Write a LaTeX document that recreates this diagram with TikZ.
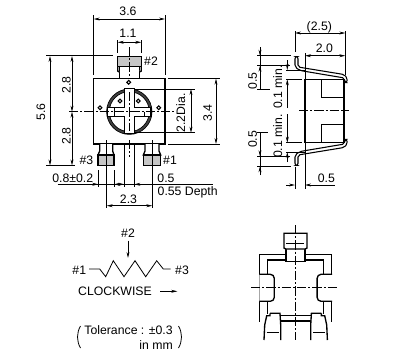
\documentclass[tikz,border=0pt]{standalone}
\usepackage{fontspec}
\setmainfont{Liberation Sans}
\usetikzlibrary{arrows.meta}
\tikzset{
  lbl/.style={inner sep=0pt,font=\fontsize{9.2}{10}\selectfont},
  dimline/.style={line width=0.5pt,>={Stealth[length=4.5pt,width=2.2pt]}},
  outline/.style={line width=1pt,fill=white},
  centerline/.style={line width=0.5pt,dash pattern=on 7pt off 1.5pt on 1.5pt off 1.5pt}
}
\begin{document}
\begin{tikzpicture}[x=0.75pt,y=-0.75pt]
  \useasboundingbox (0,0) rectangle (406,351);
  % front view
  \draw[outline] (93.7,78.7) rectangle (165,144);
  \draw[outline] (119.3,66) -- (119.3,71.7) -- (119.3,78.7) -- (139.3,78.7) -- (139.3,66);
  \draw[outline,fill=gray!45] (117.7,56.7) rectangle (141.3,66.7);
  \draw[outline] (117.7,66.7) -- (117.7,71) -- (119.3,72) (141.3,66.7) -- (141.3,71) -- (139.3,72);
  \draw[outline] (99.7,144) -- (99.7,151) -- (98,155) -- (114,155) -- (112.7,151) -- (112.7,144);
  \draw[outline,fill=gray!45] (98,155) rectangle (114,165.7);
  \draw[outline] (145,144) -- (145,151) -- (143.3,155) -- (160.7,155) -- (159,151) -- (159,144);
  \draw[outline,fill=gray!45] (143.3,155) rectangle (160.7,165.7);
  \draw[line width=0.5pt,fill=black!75,even odd rule] (129.3,111.7) circle (22.7) circle (20);
  \draw[outline] (124.3,88.7) -- (134.3,88.7) -- (134.3,107.2) -- (151,107.2) -- (151,116.5) -- (134.3,116.5)
    -- (134.3,133.3) -- (124.3,133.3) -- (124.3,116.5) -- (107.5,116.5) -- (107.5,107.2) -- (124.3,107.2) -- cycle;
  \draw[line width=0.7pt] (114.3,107.2) -- (114.3,116.5) (144.3,111.7) -- (144.3,116.5);
  \foreach \px/\py in {128.7/82.3,100/107.7,158.7/107.7,120/101,138.3/101}
    \draw[line width=0.8pt] (\px,\py) circle (1.9);
  \draw[centerline] (69,111.7) -- (175,111.7);
  \draw[centerline] (129.3,47) -- (129.3,76);
  \draw[centerline] (129.3,92) -- (129.3,131);
  \draw[centerline] (129.3,140) -- (129.3,157);
  % front view dimensions
  \draw[dimline,<->] (93.7,19) -- (165,19);
  \draw[dimline] (93.7,15) -- (93.7,75) (165,15) -- (165,75);
  \node[lbl] (w36) at (128,11) {3.6};
  \draw[dimline,<->] (117.7,42.3) -- (141.3,42.3);
  \draw[dimline] (117.7,40) -- (117.7,53) (141.3,40) -- (141.3,53);
  \node[lbl] (w11) at (128,33) {1.1};
  \draw[dimline,<->] (50,56) -- (50,165.4);
  \draw[dimline] (46,55.7) -- (113,55.7) (46,165.4) -- (75,165.4);
  \node[lbl,rotate=90] (h56) at (41,112) {5.6};
  \draw[dimline,<->] (72,56) -- (72,111.7);
  \draw[dimline,<->] (72,111.7) -- (72,165.4);
  \node[lbl,rotate=90] (h28a) at (66.5,85) {2.8};
  \node[lbl,rotate=90] (h28b) at (66.5,136) {2.8};
  \draw[dimline,<->] (216,78.7) -- (216,144);
  \draw[dimline] (168,78.7) -- (220,78.7) (168,144) -- (220,144);
  \node[lbl,rotate=90] (h34) at (207.7,113) {3.4};
  \draw[dimline,<->] (191,89) -- (191,132.7);
  \draw[dimline] (134,89) -- (195,89) (134,132.7) -- (195,132.7);
  \node[lbl,rotate=90] (dia) at (180.7,113) {2.2Dia.};
  \node[lbl] (p2) at (151,61) {\#2};
  \node[lbl] (p3) at (86.5,160) {\#3};
  \node[lbl] (p1) at (170,160) {\#1};
  \draw[dimline] (57.7,184.3) -- (213,184.3);
  \draw[dimline,->] (90,184.3) -- (98.3,184.3);
  \draw[dimline,->] (122,184.3) -- (114,184.3);
  \draw[dimline,->] (116,184.3) -- (124.3,184.3);
  \draw[dimline,->] (142,184.3) -- (134.3,184.3);
  \draw[dimline] (98.3,170) -- (98.3,186.7) (114,170) -- (114,186.7);
  \draw[dimline] (124.3,144) -- (124.3,186.7) (134.3,144) -- (134.3,186.7);
  \node[lbl] (w08) at (72.7,178) {0.8±0.2};
  \node[lbl] (w05) at (166,178) {0.5};
  \node[lbl] (depth) at (187.7,192) {0.55 Depth};
  \draw[dimline,<->] (106.7,205.7) -- (152.3,205.7);
  \draw[dimline] (106.7,140) -- (106.7,207.5) (152.3,140) -- (152.3,207.5);
  \node[lbl] (w23) at (128.5,199) {2.3};
  % side view
  \foreach \s in {1,-1}{
    \begin{scope}[shift={(0,111)},yscale=\s]
      \draw[line width=0.8pt,fill=white,rounded corners=1.5pt] (295,-54.3) -- (298,-54.3) -- (298,-44) -- (344,-36.5)
        -- (347.3,-33) -- (347,-28.3) -- (344.8,-28.3) -- (344.5,-33) -- (300,-40.5) -- (295,-44) -- cycle;
      \draw[dimline] (260,-64) -- (260,-22) (257,-55.3) -- (290.7,-55.3) (257,-45.3) -- (290,-45.3);
      \draw[dimline,->] (260,-64) -- (260,-55.3);
      \draw[dimline,->] (260,-22) -- (260,-45.3);
      \draw[dimline,->] (287.3,-51) -- (287.3,-41);
      \draw[dimline,->] (287.3,-3) -- (287.3,-31.7);
      \draw[dimline] (286,-41) -- (305,-41) (286,-31.7) -- (301.7,-31.7);
    \end{scope}
  }
  \draw[dimline] (257,89.3) -- (270,89.3) (257,132.7) -- (268,132.7);
  \draw[outline] (305,79.3) rectangle (344,142.7);
  \draw[outline] (321.3,79.3) rectangle (344,97.3);
  \draw[outline] (321.3,124.7) rectangle (344,142.7);
  \draw[centerline] (299,110.7) -- (349,110.7);
  \draw[dimline,<->] (295,33) -- (345.3,33);
  \draw[dimline] (295,31) -- (295,52) (345.3,31) -- (345.3,75);
  \node[lbl] (s25) at (319.3,27) {(2.5)};
  \draw[dimline,<->] (305,55.7) -- (345.3,55.7);
  \draw[dimline] (305,53) -- (305,79);
  \node[lbl] (s20) at (324.3,48) {2.0};
  \node[lbl,rotate=90] (s05a) at (252.7,81) {0.5};
  \node[lbl,rotate=90] (s05b) at (252.7,139.3) {0.5};
  \node[lbl,rotate=90] (s01a) at (277.7,87) {0.1 min.};
  \node[lbl,rotate=90] (s01b) at (277.7,136) {0.1 min.};
  \draw[dimline,->] (286,185) -- (295,185);
  \draw[dimline,<-] (305,185) -- (335,185);
  \draw[dimline] (295,166.7) -- (295,189) (305,143) -- (305,189);
  \node[lbl] (s05c) at (326.3,178) {0.5};
  % schematic
  \node[lbl] (sc2) at (128,233.3) {\#2};
  \coordinate (wiper) at (128,258);
  \draw[dimline,->] (sc2.south |- 0,240.7) -- (wiper);
  \node[lbl] (sc1) at (79.3,270) {\#1};
  \node[lbl] (sc3) at (182,270) {\#3};
  \draw[line width=0.6pt] (89,269) -- (99.7,269) -- (105.7,276.7) -- (113.3,260.7) -- (124,276.7) -- (135,260.7)
    -- (145.7,276.7) -- (156.7,260.7) -- (163.3,269) -- (170.7,269);
  \node[lbl] (cw) at (115,291.7) {CLOCKWISE};
  \draw[dimline,->] (160,291.3) -- (177.3,291.3);
  \node[lbl,anchor=east] (tol) at (173,330) {Tolerance : ±0.3};
  \node[lbl,anchor=east] (unit) at (173,345) {in mm};
  \draw[line width=0.6pt] (80.5,326) .. controls (76.5,333) and (76.5,341) .. (80.5,348);
  \draw[line width=0.6pt] (178.5,326) .. controls (182.5,333) and (182.5,341) .. (178.5,348);
  % bottom view
  \draw[outline] (259.3,321.7) -- (259.3,254.3) -- (331.7,254.3) -- (331.7,321.7);
  \draw[outline] (267.3,314) -- (267.3,260) -- (323.3,260) -- (323.3,314);
  \draw[outline] (280.7,315.7) -- (310.7,315.7) (280.7,321) -- (310.7,321);
  \foreach \s in {1,-1}{
    \begin{scope}[shift={(295.7,0)},xscale=\s]
      \draw[outline,rounded corners=3pt] (-36.4,274.3) -- (-21.4,274.3) -- (-21.4,301.3) -- (-36.4,301.3);
      \draw[outline] (-25.7,313.3) -- (-15.7,313.3) -- (-15,325) -- (-15,340)
        (-31.7,340) -- (-31,325) -- (-29,315.7) -- (-25.7,315.7) -- (-25.7,313.3);
      \draw[line width=1.1pt] (-29,332.7) -- (-17,332.7);
    \end{scope}
  }
  \draw[outline] (286,249) -- (286,261.7) -- (305,261.7) -- (305,249);
  \draw[outline] (286,249) -- (284,248) -- (284,233.3) -- (307,233.3) -- (307,248) -- (305,249) -- cycle;
  \draw[line width=1.1pt] (286.3,243.3) -- (304.3,243.3);
  \draw[centerline] (295.7,225) -- (295.7,340);
  \draw[centerline] (251,287.7) -- (339,287.7);
\end{tikzpicture}
\end{document}
